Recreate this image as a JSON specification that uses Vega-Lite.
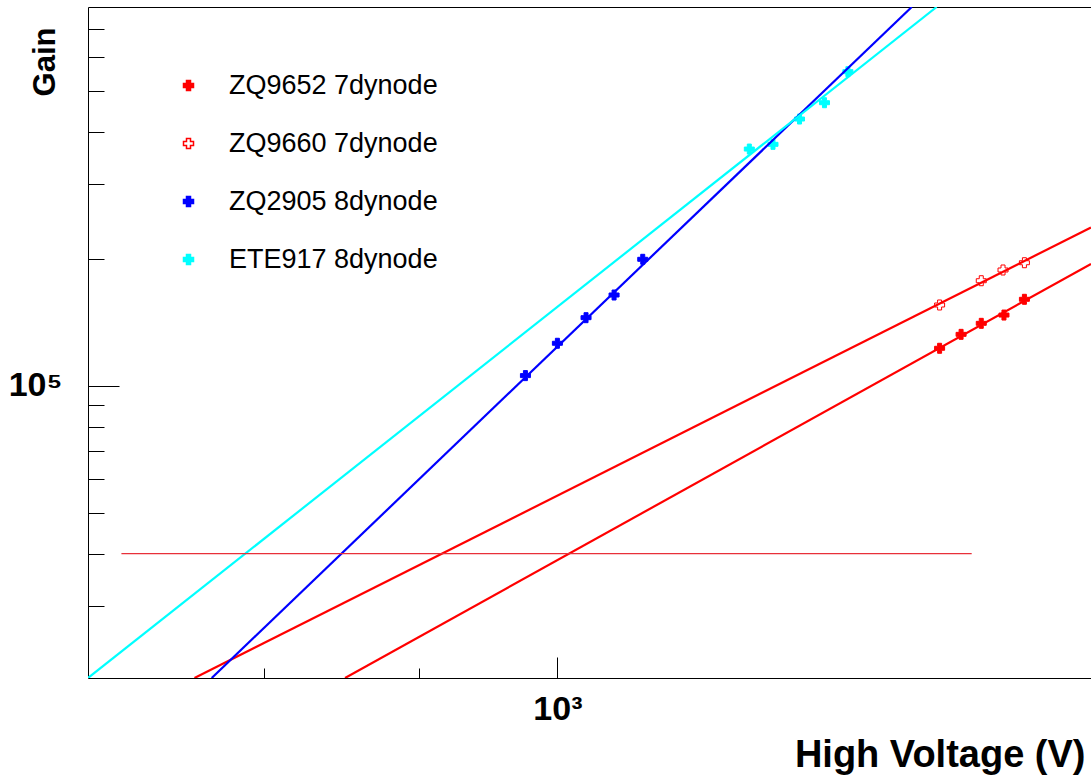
{
  "$schema": "https://vega.github.io/schema/vega-lite/v6.json",
  "width": 1003,
  "height": 671,
  "autosize": {"type": "none"},
  "padding": {"left": 88, "top": 7, "right": 0, "bottom": 102},
  "background": "white",
  "datasets": {
    "points": [
      {"pmt": "ZQ9652 7dynode", "hv": 1337, "gain": 122700},
      {"pmt": "ZQ9652 7dynode", "hv": 1359, "gain": 132400},
      {"pmt": "ZQ9652 7dynode", "hv": 1380, "gain": 140600},
      {"pmt": "ZQ9652 7dynode", "hv": 1404, "gain": 147100},
      {"pmt": "ZQ9652 7dynode", "hv": 1426, "gain": 160300},
      {"pmt": "ZQ9660 7dynode", "hv": 1337, "gain": 155400},
      {"pmt": "ZQ9660 7dynode", "hv": 1380, "gain": 177400},
      {"pmt": "ZQ9660 7dynode", "hv": 1403, "gain": 188100},
      {"pmt": "ZQ9660 7dynode", "hv": 1426, "gain": 195700},
      {"pmt": "ZQ2905 8dynode", "hv": 976, "gain": 105700},
      {"pmt": "ZQ2905 8dynode", "hv": 1000, "gain": 126100},
      {"pmt": "ZQ2905 8dynode", "hv": 1022, "gain": 145000},
      {"pmt": "ZQ2905 8dynode", "hv": 1044, "gain": 164100},
      {"pmt": "ZQ2905 8dynode", "hv": 1067, "gain": 199400},
      {"pmt": "ETE917 8dynode", "hv": 1157, "gain": 363900},
      {"pmt": "ETE917 8dynode", "hv": 1178, "gain": 373400},
      {"pmt": "ETE917 8dynode", "hv": 1202, "gain": 428700},
      {"pmt": "ETE917 8dynode", "hv": 1225, "gain": 468600},
      {"pmt": "ETE917 8dynode", "hv": 1247, "gain": 555100}
    ],
    "fits": [
      {"pmt": "ZQ9652 7dynode", "hv": 851, "gain": 20300},
      {"pmt": "ZQ9652 7dynode", "hv": 1500, "gain": 194400},
      {"pmt": "ZQ9660 7dynode", "hv": 759, "gain": 20300},
      {"pmt": "ZQ9660 7dynode", "hv": 1500, "gain": 237200},
      {"pmt": "ZQ2905 8dynode", "hv": 769, "gain": 20300},
      {"pmt": "ZQ2905 8dynode", "hv": 1309, "gain": 790000},
      {"pmt": "ETE917 8dynode", "hv": 700, "gain": 20300},
      {"pmt": "ETE917 8dynode", "hv": 1334, "gain": 790000}
    ],
    "ref": [
      {"hv": 718, "gain": 40000},
      {"hv": 1370, "gain": 40000}
    ]
  },
  "layer": [
    {
      "data": {"name": "points"},
      "mark": {"type": "point", "shape": "cross", "size": 100, "opacity": 1, "strokeWidth": 1},
      "encoding": {
        "x": {
          "field": "hv", "type": "quantitative",
          "scale": {"type": "log", "domain": [700, 1500], "nice": false},
          "axis": {
            "orient": "bottom",
            "values": [800, 900, 1000],
            "tickSize": {"condition": {"test": "datum.value == 1000", "value": -21}, "value": -10},
            "tickColor": "black", "tickWidth": 1,
            "domainColor": "black", "domainWidth": 1, "grid": false,
            "labelExpr": "datum.value == 1000 ? '10³' : ''",
            "labelFont": "Liberation Sans", "labelFontWeight": "bold", "labelFontSize": 34,
            "labelColor": "black", "labelPadding": 35, "labelOverlap": false, "labelFlush": false,
            "title": "High Voltage (V)",
            "titleFont": "Liberation Sans", "titleFontWeight": "bold", "titleFontSize": 38,
            "titleColor": "black", "titleAlign": "right", "titleAnchor": "end", "titleBaseline": "alphabetic",
            "titleX": 997, "titleY": 88
          }
        },
        "y": {
          "field": "gain", "type": "quantitative",
          "scale": {"type": "log", "domain": [20300, 790000], "nice": false},
          "axis": {
            "values": [30000, 40000, 50000, 60000, 70000, 80000, 90000, 100000, 200000, 300000, 400000, 500000, 600000, 700000],
            "tickSize": {"condition": {"test": "datum.value == 100000", "value": -31}, "value": -16},
            "tickColor": "black", "tickWidth": 1,
            "domainColor": "black", "domainWidth": 1, "grid": false,
            "labelExpr": "datum.value == 100000 ? '10⁵' : ''",
            "labelFont": "Liberation Sans", "labelFontWeight": "bold", "labelFontSize": 34,
            "labelColor": "black", "labelPadding": 57, "labelOverlap": false, "labelFlush": false,
            "title": "Gain",
            "titleFont": "Liberation Sans", "titleFontWeight": "bold", "titleFontSize": 31,
            "titleColor": "black", "titleAngle": 270, "titleAlign": "right", "titleBaseline": "alphabetic",
            "titleX": -34, "titleY": 20
          }
        },
        "fill": {
          "field": "pmt", "type": "nominal",
          "scale": {"domain": ["ZQ9652 7dynode", "ZQ9660 7dynode", "ZQ2905 8dynode", "ETE917 8dynode"], "range": ["#ff0000", "#ffffff", "#0000ff", "#00ffff"]},
          "legend": {"orient": "none", "legendX": 87, "legendY": 65, "title": null, "symbolType": "cross", "symbolSize": 100, "labelFont": "Liberation Sans", "labelFontSize": 27, "labelColor": "black", "labelOffset": 27, "labelLimit": 0, "rowPadding": 30, "padding": 0}
        },
        "stroke": {
          "field": "pmt", "type": "nominal",
          "scale": {"domain": ["ZQ9652 7dynode", "ZQ9660 7dynode", "ZQ2905 8dynode", "ETE917 8dynode"], "range": ["#ff0000", "#ff0000", "#0000ff", "#00ffff"]},
          "legend": {"orient": "none", "legendX": 87, "legendY": 65, "title": null, "symbolType": "cross", "symbolSize": 100, "labelFont": "Liberation Sans", "labelFontSize": 27, "labelColor": "black", "labelOffset": 27, "labelLimit": 0, "rowPadding": 30, "padding": 0}
        }
      }
    },
    {
      "data": {"name": "fits"},
      "mark": {"type": "line", "clip": true, "strokeWidth": 2.2},
      "encoding": {
        "x": {"field": "hv", "type": "quantitative", "axis": null},
        "y": {"field": "gain", "type": "quantitative"},
        "color": {
          "field": "pmt", "type": "nominal", "legend": null,
          "scale": {"domain": ["ZQ9652 7dynode", "ZQ9660 7dynode", "ZQ2905 8dynode", "ETE917 8dynode"], "range": ["#ff0000", "#ff0000", "#0000ff", "#00ffff"]}
        }
      }
    },
    {
      "data": {"name": "ref"},
      "mark": {"type": "line", "clip": true, "stroke": "#e8303a", "strokeWidth": 1.2},
      "encoding": {
        "x": {"field": "hv", "type": "quantitative", "axis": {"orient": "top", "ticks": false, "labels": false, "title": null, "domainColor": "black", "domainWidth": 1, "grid": false}},
        "y": {"field": "gain", "type": "quantitative"}
      }
    }
  ],
  "resolve": {"axis": {"x": "independent"}},
  "config": {"view": {"stroke": null}}
}
